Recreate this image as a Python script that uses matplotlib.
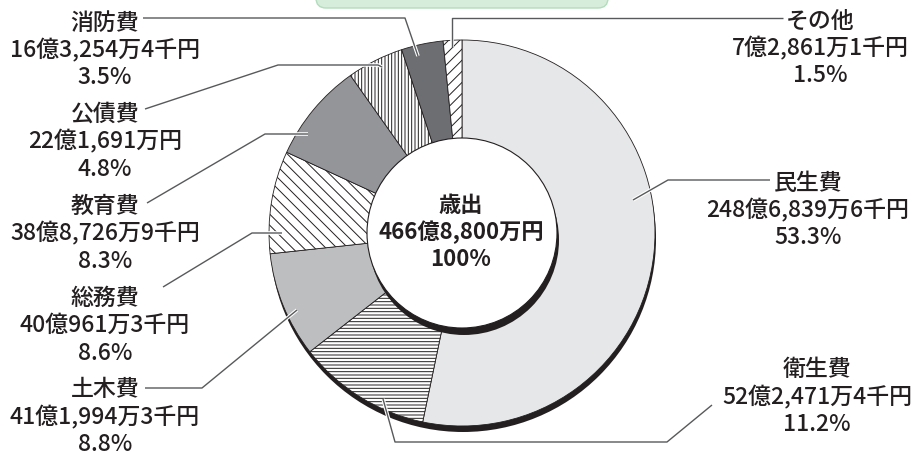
import matplotlib.pyplot as plt
import matplotlib.patheffects as pe
from matplotlib.patches import Circle, FancyBboxPatch

plt.rcParams['font.family'] = ['Noto Sans CJK JP', 'DejaVu Sans']
plt.rcParams['hatch.linewidth'] = 0.7

# 歳出の内訳（千円）, clockwise from 12 o'clock
categories = ['民生費', '衛生費', '土木費', '総務費', '教育費', '公債費', '消防費', 'その他']
amounts = [24868396, 5224714, 4119943, 4009613, 3887269, 2216910, 1632544, 728611]
amount_labels = ['248億6,839万6千円', '52億2,471万4千円', '41億1,994万3千円', '40億961万3千円',
                 '38億8,726万9千円', '22億1,691万円', '16億3,254万4千円', '7億2,861万1千円']
pct_labels = ['53.3%', '11.2%', '8.8%', '8.6%', '8.3%', '4.8%', '3.5%', '1.5%']
total_label = ['歳出', '466億8,800万円', '100%']

colors = ['#e6e7e8', 'white', '#bcbec0', 'white', '#939598', 'white', '#6d6e71', 'white']
hatches = [None, '-----', None, '\\\\\\', None, '|||||', None, '///']

W, H = 916, 456
fig = plt.figure(figsize=(W / 100, H / 100), dpi=100)
ax = fig.add_axes([0, 0, 1, 1])

def Y(y):
    return H - y

cx, cy, R, r = 462, 234, 193, 95
ink = '#231f20'

# green box at top (cut off)
ax.add_patch(FancyBboxPatch((316, Y(9)), 292, 30, boxstyle='round,pad=0,rounding_size=10',
                            fc='#d6eddb', ec='#b3dcbd', lw=1, zorder=1))

# outer shadow
ax.add_patch(Circle((cx + 1, Y(cy) - 6), R, fc=ink, ec='none', zorder=1))

wedges, _ = ax.pie(amounts, colors=colors, startangle=90, counterclock=False,
                   radius=R, center=(cx, Y(cy)), frame=True,
                   wedgeprops=dict(edgecolor=ink, linewidth=0.6))
for w, h in zip(wedges, hatches):
    w.set_zorder(2)
    if h:
        w.set_hatch(h)
ax.set_xlim(0, W)
ax.set_ylim(0, H)
ax.set_aspect('equal')
ax.axis('off')

# inner hole with shadow
ax.add_patch(Circle((cx + 2, Y(cy) - 7), r, fc=ink, ec='none', zorder=3))
ax.add_patch(Circle((cx, Y(cy)), r, fc='white', ec=ink, lw=0.8, zorder=4))

for i, t in enumerate(total_label):
    ax.text(cx - 1, Y(205 + i * 27), t, ha='center', va='center', fontsize=16,
            fontweight='bold', color=ink, zorder=5)

# label positions (block centre x, first line y) and leader polylines
label_pos = {
    '民生費': (808, 183), '衛生費': (817, 370), '土木費': (105, 390), '総務費': (105, 298),
    '教育費': (105, 206), '公債費': (105, 114), '消防費': (105, 23), 'その他': (820, 21),
}
leaders = {
    '民生費': [(770, 181), (668, 181), (633, 201)],
    '衛生費': [(712, 406), (667, 443), (395, 443), (383, 400)],
    '土木費': [(145, 389), (202, 389), (297, 311)],
    '総務費': [(163, 288), (252, 234), (282, 234)],
    '教育費': [(147, 204), (265, 135), (308, 135)],
    '公債費': [(145, 110), (278, 66), (378, 66), (382, 68)],
    '消防費': [(143, 19), (405, 19), (418, 57)],
    'その他': [(783, 19), (452, 19), (452, 48)],
}

for name, amt, pct in zip(categories, amount_labels, pct_labels):
    x0, y0 = label_pos[name]
    for j, t in enumerate([name, amt, pct]):
        ax.text(x0, Y(y0 + j * 27.5), t, ha='center', va='center', fontsize=16.5,
                fontweight='medium', color=ink, zorder=5)
    pts = leaders[name]
    ax.plot([p[0] for p in pts], [Y(p[1]) for p in pts], color='#58595b', lw=1.0,
            solid_capstyle='butt', zorder=6,
            path_effects=[pe.Stroke(linewidth=2.6, foreground='white'), pe.Normal()])

fig.savefig('out.png', dpi=100)
